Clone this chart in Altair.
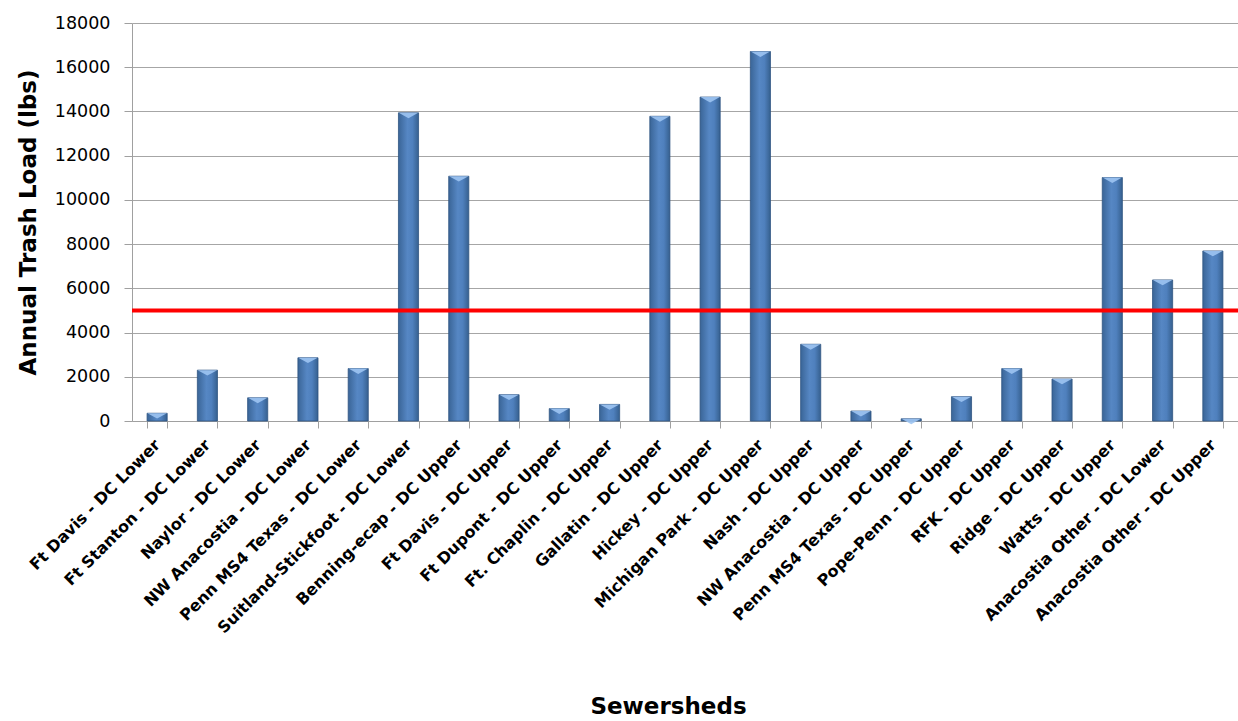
import altair as alt
import pandas as pd

# Annual trash load per sewershed (lbs)
sewersheds = [
    "Ft Davis - DC Lower",
    "Ft Stanton - DC Lower",
    "Naylor - DC Lower",
    "NW Anacostia - DC Lower",
    "Penn MS4 Texas - DC Lower",
    "Suitland-Stickfoot - DC Lower",
    "Benning-ecap - DC Upper",
    "Ft Davis - DC Upper",
    "Ft Dupont - DC Upper",
    "Ft. Chaplin - DC Upper",
    "Gallatin - DC Upper",
    "Hickey - DC Upper",
    "Michigan Park - DC Upper",
    "Nash - DC Upper",
    "NW Anacostia - DC Upper",
    "Penn MS4 Texas - DC Upper",
    "Pope-Penn - DC Upper",
    "RFK - DC Upper",
    "Ridge - DC Upper",
    "Watts - DC Upper",
    "Anacostia Other - DC Lower",
    "Anacostia Other - DC Upper",
]
loads = [350, 2300, 1050, 2860, 2370, 13940, 11070, 1190, 560, 750, 13780,
         14650, 16710, 3470, 450, 100, 1100, 2370, 1900, 11010, 6380, 7690]
threshold = [5000]
y_ticks = [0, 2000, 4000, 6000, 8000, 10000, 12000, 14000, 16000, 18000]

df = pd.DataFrame({"Sewershed": sewersheds, "Load": loads})
thr = pd.DataFrame({"Threshold": threshold})

FONT = "DejaVu Sans"
W, H = 1106, 398

x_enc = alt.X(
    "Sewershed:N",
    sort=sewersheds,
    scale=alt.Scale(paddingInner=0.6, paddingOuter=0.3),
    axis=alt.Axis(
        title="Sewersheds",
        titleFont=FONT,
        titleFontSize=23,
        titleFontWeight="bold",
        titleColor="#000000",
        titleX=536,
        titleY=292,
        titleBaseline="alphabetic",
        labelAngle=-45,
        labelAlign="right",
        labelBaseline="middle",
        labelFont=FONT,
        labelFontSize=16,
        labelFontWeight="bold",
        labelColor="#000000",
        labelPadding=14,
        labelLimit=400,
        labelOverlap=False,
        tickBand="extent",
        tickSize=7,
        tickColor="#a0a0a0",
        domainColor="#a0a0a0",
        grid=False,
    ),
)

y_scale = alt.Scale(domain=[0, 18000], nice=False)

bars = alt.Chart(df).mark_bar(
    color=alt.Gradient(
        gradient="linear",
        x1=0, x2=1, y1=0, y2=0,
        stops=[
            alt.GradientStop(color="#3a6597", offset=0),
            alt.GradientStop(color="#5687c4", offset=0.45),
            alt.GradientStop(color="#4f80bd", offset=0.7),
            alt.GradientStop(color="#36608f", offset=1),
        ],
    ),
    stroke="#2e5482",
    strokeWidth=0.8,
).encode(
    x=x_enc,
    y=alt.Y(
        "Load:Q",
        scale=y_scale,
        axis=alt.Axis(
            values=y_ticks,
            format="d",
            title="Annual Trash Load (lbs)",
            titleFont=FONT,
            titleFontSize=23,
            titleFontWeight="bold",
            titleColor="#000000",
            titleAngle=-90,
            titleX=-104,
            titleY=H / 2,
            titleAlign="center",
            titleBaseline="middle",
            labelFont=FONT,
            labelFontSize=17.5,
            labelColor="#000000",
            labelPadding=14,
            tickSize=8,
            tickColor="#a0a0a0",
            domainColor="#a0a0a0",
            gridColor="#a6a6a6",
            gridWidth=1.2,
        ),
    ),
)

# light bevel at the top of each bar
caps = alt.Chart(df).mark_point(
    shape="M-1,0L1,0L0,0.55Z",
    filled=True,
    color="#9dc4f2",
    opacity=0.9,
    size=380,
).encode(
    x=alt.X("Sewershed:N", sort=sewersheds),
    y=alt.Y("Load:Q", scale=y_scale),
)

rule = alt.Chart(thr).mark_rule(color="#ff0000", strokeWidth=4).encode(
    y=alt.Y("Threshold:Q", scale=y_scale)
)

chart = (
    alt.layer(bars, caps, rule)
    .properties(
        width=W,
        height=H,
        autosize=alt.AutoSizeParams(type="none"),
        padding={"left": 132, "top": 23, "right": 0, "bottom": 300},
        background="#ffffff",
    )
    .configure_view(stroke=None)
)

chart.save("out.html", embed_options={"renderer": "svg", "actions": False})
